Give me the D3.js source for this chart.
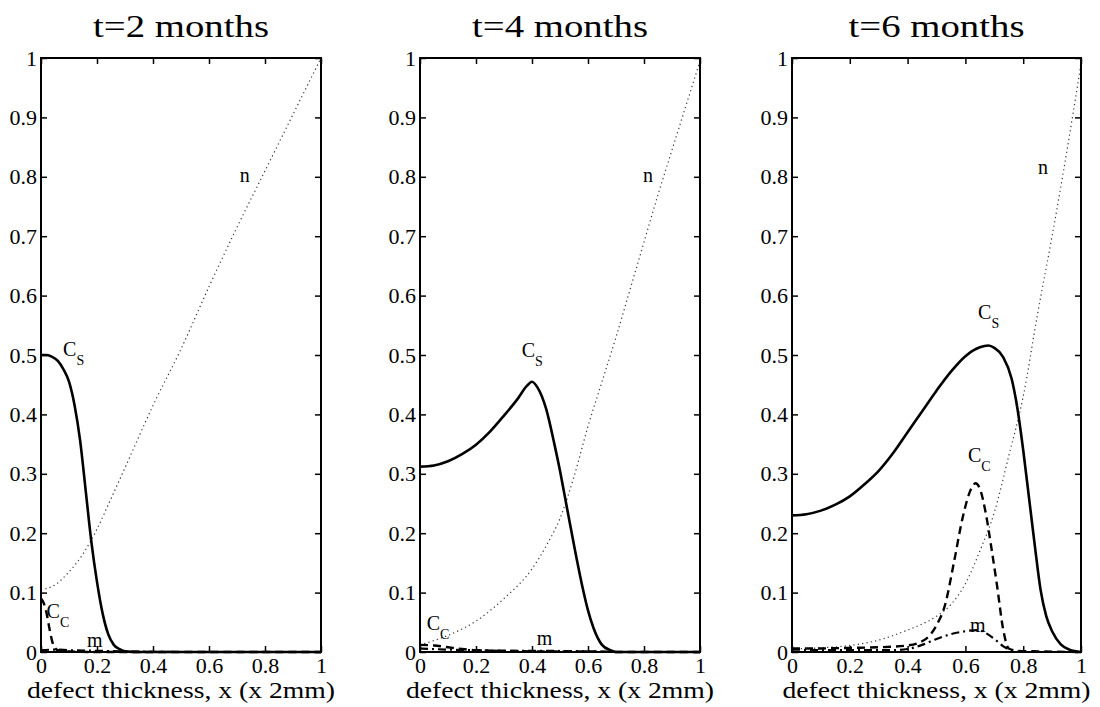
<!DOCTYPE html>
<html>
<head>
<meta charset="utf-8">
<script src="https://cdn.jsdelivr.net/npm/d3@7"></script>
<style>
    body { margin: 0; background: #fff; }
    svg text { font-family: "Liberation Serif", "Times New Roman", Times, serif; fill: #000; }
</style>
</head>
<body>
<script>
// panel titles and tick values
var titles = ["t=2 months", "t=4 months", "t=6 months"];
var xLabel = "defect thickness, x (x 2mm)";
var xTicks = [0, 0.2, 0.4, 0.6, 0.8, 1];
var yTicks = [0, 0.1, 0.2, 0.3, 0.4, 0.5, 0.6, 0.7, 0.8, 0.9, 1];

// t = 2 months
var cs2 = [[0,0.5],[0.02,0.5],[0.04,0.497],[0.06,0.49],[0.08,0.476],[0.1,0.455],[0.12,0.415],[0.14,0.355],[0.16,0.27],[0.18,0.185],[0.2,0.118],[0.22,0.065],[0.24,0.03],[0.26,0.012],[0.28,0.005],[0.3,0.001],[0.35,0],[1,0]];
var cc2 = [[0,0.09],[0.01,0.082],[0.02,0.065],[0.03,0.04],[0.04,0.018],[0.05,0.007],[0.06,0.003],[0.08,0.002],[0.1,0.001],[0.2,0],[1,0]];
var m2 = [[0,0.003],[0.05,0.004],[0.1,0.003],[0.2,0.002],[0.3,0.001],[0.5,0],[1,0]];
var n2 = [[0,0.105],[0.05,0.113],[0.1,0.135],[0.15,0.165],[0.2,0.207],[0.25,0.258],[0.3,0.31],[0.4,0.415],[0.5,0.51],[0.6,0.615],[0.7,0.715],[0.8,0.81],[0.9,0.905],[1,1]];

// t = 4 months
var cs4 = [[0,0.312],[0.05,0.314],[0.1,0.321],[0.15,0.333],[0.2,0.349],[0.25,0.371],[0.3,0.398],[0.35,0.427],[0.38,0.447],[0.4,0.455],[0.42,0.445],[0.45,0.41],[0.48,0.35],[0.5,0.305],[0.52,0.255],[0.55,0.18],[0.58,0.11],[0.6,0.07],[0.62,0.04],[0.65,0.012],[0.68,0.003],[0.7,0],[1,0]];
var cc4 = [[0,0.012],[0.05,0.011],[0.1,0.008],[0.15,0.005],[0.2,0.003],[0.3,0.002],[0.4,0.001],[0.6,0.001],[0.7,0],[1,0]];
var m4 = [[0,0.006],[0.1,0.004],[0.2,0.003],[0.3,0.002],[0.4,0.002],[0.6,0.001],[0.7,0],[1,0]];
var n4 = [[0,0.012],[0.1,0.028],[0.2,0.052],[0.3,0.09],[0.4,0.14],[0.45,0.178],[0.5,0.225],[0.55,0.295],[0.6,0.38],[0.65,0.455],[0.7,0.53],[0.75,0.61],[0.8,0.69],[0.85,0.77],[0.9,0.845],[0.95,0.92],[1,0.995]];

// t = 6 months
var cs6 = [[0,0.23],[0.05,0.232],[0.1,0.238],[0.15,0.248],[0.2,0.262],[0.25,0.282],[0.3,0.305],[0.35,0.335],[0.4,0.37],[0.45,0.405],[0.5,0.44],[0.55,0.472],[0.6,0.498],[0.65,0.513],[0.68,0.516],[0.7,0.512],[0.73,0.497],[0.76,0.46],[0.78,0.41],[0.8,0.34],[0.82,0.26],[0.84,0.18],[0.86,0.105],[0.88,0.06],[0.9,0.035],[0.93,0.013],[0.96,0.004],[1,0]];
var cc6 = [[0,0.006],[0.1,0.006],[0.2,0.007],[0.3,0.008],[0.4,0.011],[0.45,0.018],[0.48,0.03],[0.5,0.045],[0.53,0.08],[0.56,0.15],[0.59,0.225],[0.62,0.275],[0.635,0.284],[0.65,0.275],[0.67,0.235],[0.69,0.175],[0.71,0.11],[0.73,0.04],[0.75,0.006],[0.78,0.002],[0.85,0.001],[1,0]];
var m6 = [[0,0.004],[0.2,0.003],[0.35,0.003],[0.4,0.005],[0.45,0.012],[0.5,0.022],[0.55,0.03],[0.6,0.035],[0.64,0.037],[0.67,0.032],[0.7,0.022],[0.73,0.01],[0.76,0.003],[0.8,0],[1,0]];
var n6 = [[0,0.005],[0.1,0.007],[0.2,0.011],[0.3,0.02],[0.4,0.037],[0.45,0.047],[0.5,0.06],[0.55,0.08],[0.6,0.115],[0.65,0.17],[0.7,0.235],[0.75,0.33],[0.8,0.43],[0.85,0.57],[0.9,0.7],[0.95,0.84],[1,0.99]];

var seriesByPanel = [
    { cs: cs2, cc: cc2, m: m2, n: n2 },
    { cs: cs4, cc: cc4, m: m4, n: n4 },
    { cs: cs6, cc: cc6, m: m6, n: n6 }
];

// curve labels: text, subscript, position in data units
var labels2 = [["n", "", 0.71, 0.791], ["C", "S", 0.079, 0.498], ["C", "C", 0.02, 0.057], ["m", "", 0.164, 0.008]];
var labels4 = [["n", "", 0.796, 0.791], ["C", "S", 0.363, 0.497], ["C", "C", 0.024, 0.037], ["m", "", 0.417, 0.012]];
var labels6 = [["n", "", 0.851, 0.805], ["C", "S", 0.644, 0.56], ["C", "C", 0.609, 0.32], ["m", "", 0.616, 0.034]];
var labelsByPanel = [labels2, labels4, labels6];

var w = 1100;
var h = 707;
var panelLeft = [41, 420, 792];
var panelRight = [321, 700, 1081];
var plotTop = 58;
var plotBottom = 652;

var styles = {
    cs: { width: 2.6, dash: null, color: "#000" },
    cc: { width: 2.4, dash: "8,5", color: "#000" },
    m:  { width: 2.2, dash: "8,4,2,4", color: "#000" },
    n:  { width: 1.2, dash: "1.2,3.2", color: "#333" }
};

var svg = d3.select("body")
    .append("svg")
    .attr("width", w)
    .attr("height", h);

titles.forEach(function (title, p) {
    var xScale = d3.scaleLinear().domain([0, 1]).range([panelLeft[p], panelRight[p]]);
    var yScale = d3.scaleLinear().domain([0, 1]).range([plotBottom, plotTop]);
    var cx = (panelLeft[p] + panelRight[p]) / 2;
    var g = svg.append("g");

    // title
    g.append("text")
        .attr("x", cx)
        .attr("y", 37)
        .attr("text-anchor", "middle")
        .attr("font-size", "31px")
        .attr("textLength", 176)
        .attr("lengthAdjust", "spacingAndGlyphs")
        .text(title);

    // axes, ticks pointing inward
    var fmt = function (d) { return String(+d.toFixed(1)); };
    g.append("g")
        .attr("transform", "translate(" + panelLeft[p] + ",0)")
        .call(d3.axisLeft(yScale).tickValues(yTicks).tickSize(-6).tickPadding(4).tickFormat(fmt));
    g.append("g")
        .attr("transform", "translate(" + panelRight[p] + ",0)")
        .call(d3.axisRight(yScale).tickValues(yTicks).tickSize(-6).tickFormat(""));
    g.append("g")
        .attr("transform", "translate(0," + plotBottom + ")")
        .call(d3.axisBottom(xScale).tickValues(xTicks).tickSize(-6).tickPadding(5).tickFormat(fmt));
    g.append("g")
        .attr("transform", "translate(0," + plotTop + ")")
        .call(d3.axisTop(xScale).tickValues(xTicks).tickSize(-6).tickFormat(""));

    g.selectAll(".domain").remove();
    g.selectAll(".tick line").attr("stroke", "#000").attr("stroke-width", 1.5);
    g.selectAll(".tick text")
        .attr("font-size", "22px")
        .attr("fill", "#000");

    // curves
    var line = d3.line()
        .x(function (d) { return xScale(d[0]); })
        .y(function (d) { return yScale(d[1]); })
        .curve(d3.curveMonotoneX);

    ["n", "m", "cc", "cs"].forEach(function (key) {
        var st = styles[key];
        g.append("path")
            .datum(seriesByPanel[p][key])
            .attr("fill", "none")
            .attr("stroke", st.color)
            .attr("stroke-width", st.width)
            .attr("stroke-dasharray", st.dash)
            .attr("d", line);
    });

    // frame
    g.append("rect")
        .attr("x", panelLeft[p])
        .attr("y", plotTop)
        .attr("width", panelRight[p] - panelLeft[p])
        .attr("height", plotBottom - plotTop)
        .attr("fill", "none")
        .attr("stroke", "#000")
        .attr("stroke-width", 2);

    // curve labels
    labelsByPanel[p].forEach(function (lab) {
        var t = g.append("text")
            .attr("x", xScale(lab[2]))
            .attr("y", yScale(lab[3]))
            .attr("font-size", "20px")
            .text(lab[0]);
        if (lab[1]) {
            t.append("tspan")
                .attr("font-size", "14px")
                .attr("dy", 9)
                .text(lab[1]);
        }
    });

    // x axis label
    g.append("text")
        .attr("x", cx)
        .attr("y", 698)
        .attr("text-anchor", "middle")
        .attr("font-size", "23px")
        .attr("textLength", 308)
        .attr("lengthAdjust", "spacingAndGlyphs")
        .text(xLabel);
});
</script>
</body>
</html>
